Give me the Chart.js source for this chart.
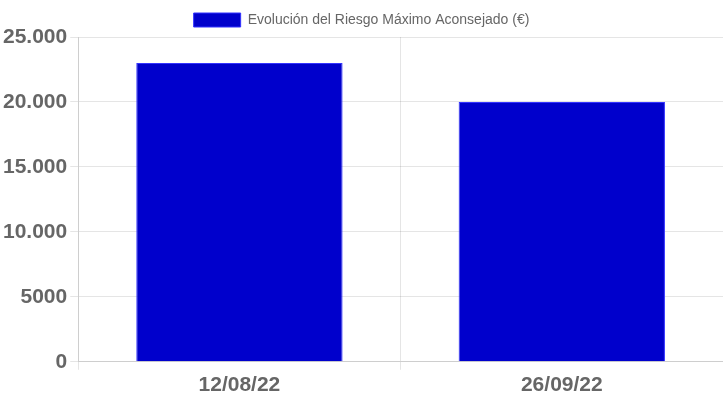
<!DOCTYPE html>
<html>
<head>
<meta charset="utf-8">
<script src="https://cdn.jsdelivr.net/npm/chart.js@4/dist/chart.umd.min.js"></script>
<style>
  html, body { margin: 0; padding: 0; background: #fff; }
  .chart-wrap { width: 723px; height: 402px; position: relative; }
</style>
</head>
<body>
<div class="chart-wrap"><canvas id="chart"></canvas></div>
<script>
const categories = ['12/08/22', '26/09/22'];
const riesgoValues = [23000, 20000];
const seriesLabel = 'Evolución del Riesgo Máximo Aconsejado (€)';

Chart.defaults.font.family = '"Liberation Sans", Arial, sans-serif';

new Chart(document.getElementById('chart'), {
  type: 'bar',
  data: {
    labels: categories,
    datasets: [{
      label: seriesLabel,
      data: riesgoValues,
      backgroundColor: '#0000cc',
      borderColor: '#3333ff',
      borderWidth: 1,
      barPercentage: 0.8,
    }],
  },
  options: {
    responsive: true,
    maintainAspectRatio: false,
    animation: false,
    layout: { padding: { top: 3, bottom: 1 } },
    scales: {
      x: {
        grid: { color: 'rgba(0,0,0,0.1)' },
        ticks: { color: '#666', font: { size: 21, weight: 'bold' } },
      },
      y: {
        min: 0,
        max: 25000,
        grid: { color: 'rgba(0,0,0,0.1)' },
        ticks: {
          color: '#666',
          stepSize: 5000,
          font: { size: 21, weight: 'bold' },
          callback: (v) => v >= 10000 ? v.toLocaleString('de-DE') : String(v),
        },
      },
    },
    plugins: {
      legend: {
        position: 'top',
        labels: { color: '#666', boxWidth: 47, boxHeight: 14, font: { size: 14 } },
      },
      tooltip: { enabled: false },
    },
  },
});
</script>
</body>
</html>
